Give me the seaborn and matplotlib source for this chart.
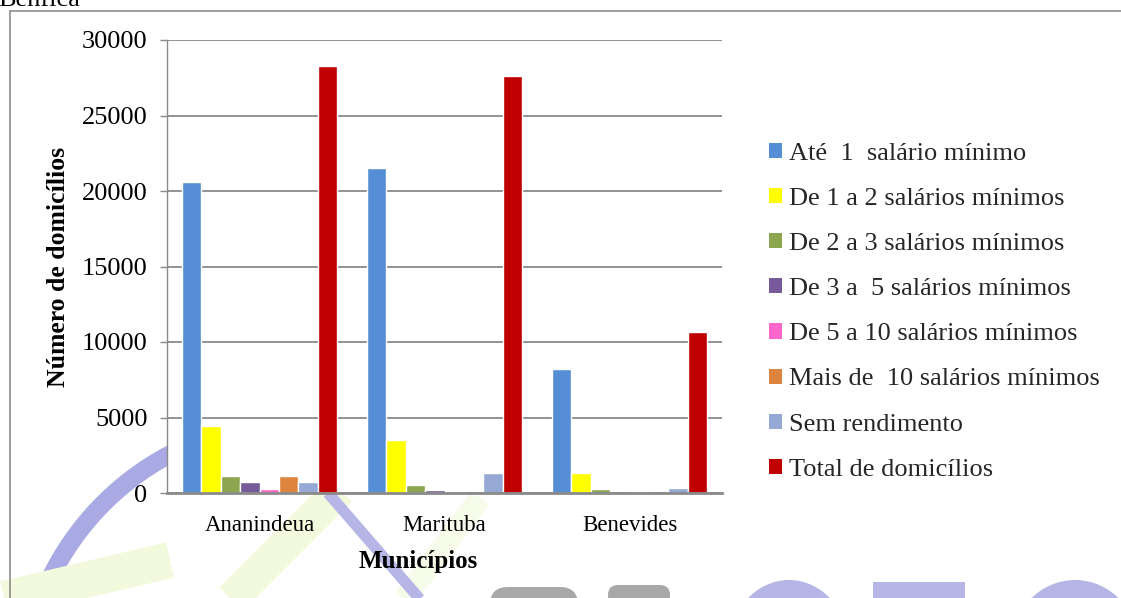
import matplotlib
matplotlib.use("Agg")
import matplotlib.pyplot as plt
from matplotlib.patches import Patch, Arc, FancyBboxPatch, Ellipse, Rectangle
import pandas as pd
import seaborn as sns

# ---- data -------------------------------------------------------------
municipios = ["Ananindeua", "Marituba", "Benevides"]
faixas = [
    "Até  1  salário mínimo",
    "De 1 a 2 salários mínimos",
    "De 2 a 3 salários mínimos",
    "De 3 a  5 salários mínimos",
    "De 5 a 10 salários mínimos",
    "Mais de  10 salários mínimos",
    "Sem rendimento",
    "Total de domicílios",
]
ate_1 = [20600, 21550, 8200]
de_1_a_2 = [4450, 3500, 1350]
de_2_a_3 = [1150, 530, 270]
de_3_a_5 = [720, 200, 130]
de_5_a_10 = [270, 60, 40]
mais_de_10 = [1150, 0, 0]
sem_rendimento = [750, 1300, 330]
total = [28250, 27600, 10650]
cores = ["#558ed5", "#ffff00", "#8ba64f", "#775a99",
         "#ff66cc", "#dd853f", "#95a9d4", "#c00000"]
yticks = [0, 5000, 10000, 15000, 20000, 25000, 30000]

series = [ate_1, de_1_a_2, de_2_a_3, de_3_a_5, de_5_a_10,
          mais_de_10, sem_rendimento, total]
rows = []
for faixa, valores in zip(faixas, series):
    for mun, v in zip(municipios, valores):
        rows.append({"Município": mun, "Faixa": faixa, "Domicílios": v})
df = pd.DataFrame(rows)

# ---- style ------------------------------------------------------------
sns.set_theme(style="white")
plt.rcParams["font.family"] = ["Liberation Serif", "DejaVu Serif"]
plt.rcParams["axes.unicode_minus"] = False

W, H = 1121, 598
fig = plt.figure(figsize=(W / 100, H / 100), dpi=100, facecolor="white")

# ---- background logo (decorative) --------------------------------------
bg = fig.add_axes([0, 0, 1, 1], zorder=-1)
bg.set_xlim(0, W)
bg.set_ylim(H, 0)
bg.axis("off")
lime = "#f3f9dc"
lav = "#a9a9e3"
bg.plot([0, 170], [600, 560], color=lime, lw=26, solid_capstyle="butt")
bg.plot([225, 340], [605, 490], color=lime, lw=24, solid_capstyle="butt")
bg.plot([400, 480], [605, 498], color=lime, lw=16, solid_capstyle="butt", alpha=0.6)
bg.add_patch(Arc((300, 700), 556, 556, theta1=190, theta2=262,
                 color=lav, lw=13))
bg.plot([328, 425], [493, 605], color="#b5b5e6", lw=8, solid_capstyle="butt")
# lettering along the bottom edge
gray = "#a8a8a8"
bg.add_patch(FancyBboxPatch((490, 587), 88, 40, boxstyle="round,pad=0,rounding_size=18",
                            fc=gray, ec="none"))
bg.add_patch(FancyBboxPatch((608, 585), 62, 40, boxstyle="round,pad=0,rounding_size=10",
                            fc=gray, ec="none"))
lav2 = "#b5b5e6"
bg.add_patch(Ellipse((789, 650), 122, 140, fc=lav2, ec="none"))
bg.add_patch(Rectangle((873, 582), 92, 30, fc=lav2, ec="none"))
bg.add_patch(Ellipse((1075, 650), 130, 140, fc=lav2, ec="none"))

# outer frame and caption fragment
bg.plot([10, 10], [11, H + 5], color="#8c8c8c", lw=1.2)
bg.plot([10, W + 5], [11, 11], color="#8c8c8c", lw=1.2)
bg.text(-2, 6, "Benfica", fontsize=19, color="black", va="baseline", ha="left")

# ---- main chart ---------------------------------------------------------
ax = fig.add_axes([167 / W, 1 - 493 / H, (722 - 167) / W, (493 - 40) / H], zorder=1)
ax.set_facecolor("white")
sns.barplot(data=df, x="Município", y="Domicílios", hue="Faixa",
            hue_order=faixas, order=municipios, palette=cores,
            saturation=1, width=0.84, dodge=True, errorbar=None,
            legend=False, ax=ax)

ax.set_ylim(0, 30000)
ax.set_yticks(yticks)
ax.set_yticklabels([str(t) for t in yticks])
ax.set_axisbelow(True)
ax.yaxis.grid(True, color="#8a8a8a", lw=1.3)
ax.xaxis.grid(False)
for s in ["top", "right"]:
    ax.spines[s].set_visible(False)
ax.spines["left"].set_color("#8a8a8a")
ax.spines["left"].set_linewidth(1.0)
ax.spines["bottom"].set_color("#8a8a8a")
ax.spines["bottom"].set_linewidth(2.0)
ax.tick_params(axis="y", length=5, width=1.0, color="#8a8a8a", direction="out",
               pad=9, labelsize=19, labelcolor="black", left=True)
ax.tick_params(axis="x", length=0, pad=16, labelsize=16.5, labelcolor="black")

ax.set_xlabel("Municípios", fontsize=18, fontweight="bold", color="black")
ax.xaxis.set_label_coords(0.452, -0.125)
ax.xaxis.label.set_va("top")
ax.set_ylabel("Número de domicílios", fontsize=18.5, fontweight="bold", color="black")
ax.yaxis.set_label_coords(-0.175, 0.5)

handles = [Patch(facecolor=c, edgecolor="none", label=f) for c, f in zip(cores, faixas)]
fig.legend(handles=handles, loc="upper left", bbox_to_anchor=(769 / W, 1 - 143 / H),
           frameon=False, fontsize=19, handlelength=0.5, handleheight=0.5,
           handletextpad=0.25, labelspacing=0.875, borderpad=0, borderaxespad=0)

fig.savefig("out.png", dpi=100, facecolor="white")
